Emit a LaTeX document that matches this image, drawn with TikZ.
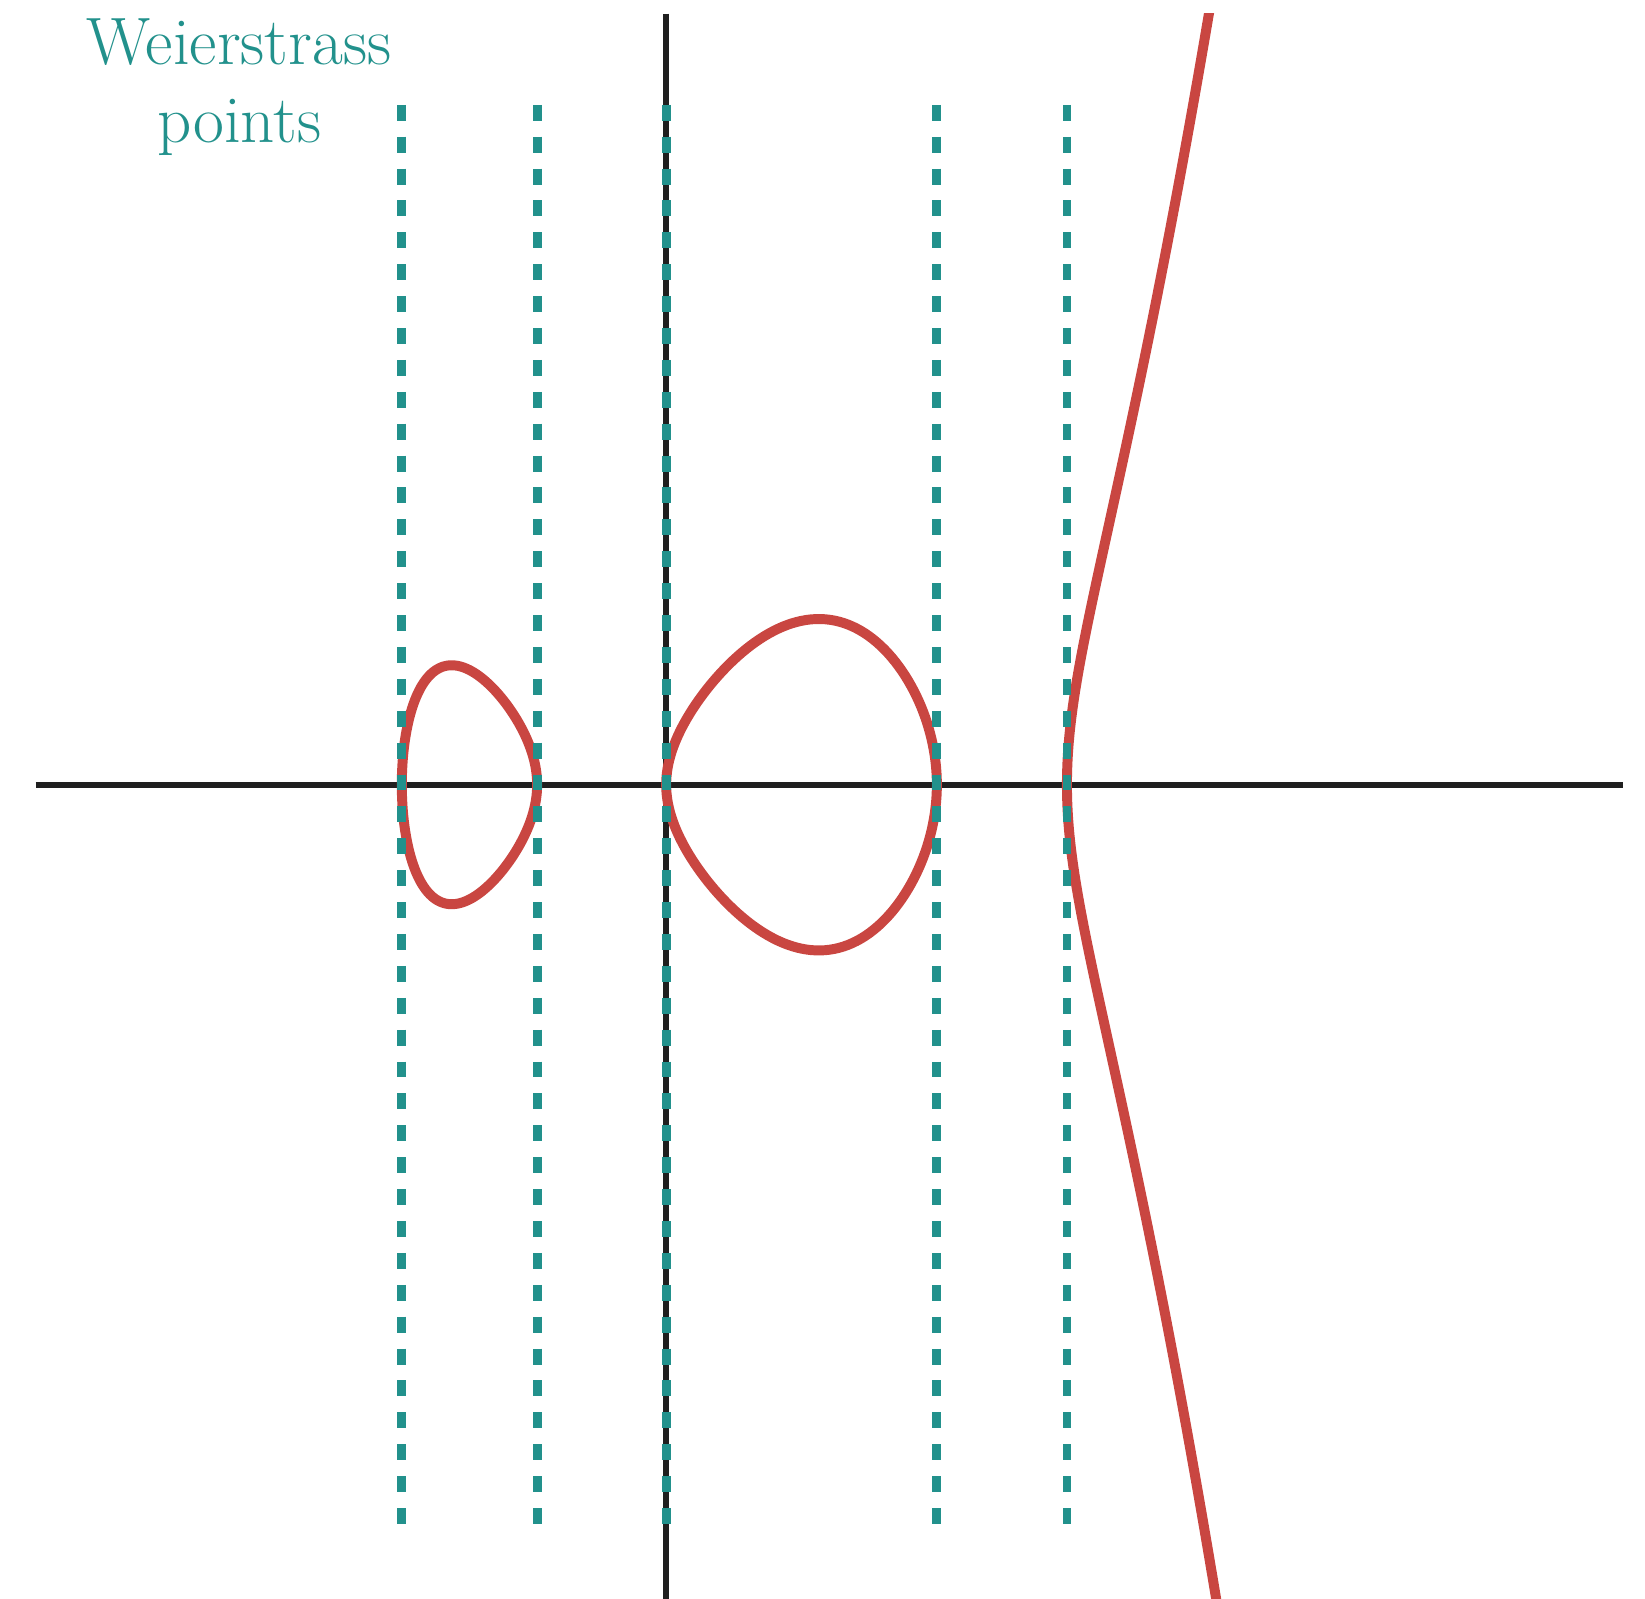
\documentclass[tikz,border=0pt]{standalone}
\usetikzlibrary{positioning}
\usepackage{xcolor}
\definecolor{wcolor}{RGB}{34,145,140}
\definecolor{curvecolor}{RGB}{201,70,65}
\tikzset{
  axis/.style    = {line width=1.7pt, black!88},
  wline/.style   = {line width=2.4pt, wcolor, dash pattern=on 0.152cm off 0.152cm},
  curve/.style   = {line width=2.7pt, curvecolor, line join=round},
  wlabel/.style  = {text=wcolor, align=center, inner sep=0pt,
                    font=\fontsize{18.2}{21.2}\selectfont},
  declare function = {
    gone(\x)   = -0.0604*\x*(\x-2.58)*(\x-3.82);
    gtwo(\x)   = -0.0604*(\x+2.52)*(\x+1.23)*(\x-3.82);
    gthree(\x) = 0.0604*(\x+2.52)*(\x+1.23)*\x*(\x-2.58);
  }
}

\begin{document}
\begin{tikzpicture}
\useasboundingbox (-6.35,-7.76) rectangle (9.33,7.48);

% ---------------- roots ----------------
\coordinate (e1) at (-2.52,0);
\coordinate (e2) at (-1.23,0);
\coordinate (e3) at (0,0);
\coordinate (e4) at (2.58,0);
\coordinate (e5) at (3.82,0);

% ---------------- axes ----------------
\coordinate (xl) at (-6.01,0);
\coordinate (xr) at (9.12,0);
\coordinate (yt) at (0,7.35);
\coordinate (yb) at (0,-7.76);
\draw[axis] (xl) -- (xr);
\draw[axis] (yt) -- (yb);

% ---------------- curve ----------------
\begin{scope}
\clip (-6.35,-7.76) rectangle (9.33,7.35);
% small oval
\draw[curve] plot[domain=0:360, samples=181, variable=\t]
  ({-1.875-0.645*cos(\t)}, {0.645*sin(\t)*sqrt(gone(-1.875-0.645*cos(\t)))}) -- cycle;
% large oval
\draw[curve] plot[domain=0:360, samples=181, variable=\t]
  ({1.29-1.29*cos(\t)}, {1.29*sin(\t)*sqrt(gtwo(1.29-1.29*cos(\t)))}) -- cycle;
% unbounded branch
\draw[curve] plot[domain=-1.24:1.24, samples=161, variable=\s]
  ({3.82+\s*\s}, {\s*sqrt(gthree(3.82+\s*\s))});
\end{scope}

% ---------------- Weierstrass lines ----------------
\draw[wline] (-2.52,6.481) -- (-2.52,-7.08);
\draw[wline] (-1.23,6.481) -- (-1.23,-7.08);
\draw[wline] (0,6.481) -- (0,-7.08);
\draw[wline] (2.58,6.481) -- (2.58,-7.08);
\draw[wline] (3.82,6.481) -- (3.82,-7.08);

% ---------------- label ----------------
\node[wlabel] (wtext) at (-4.07,6.65) {Weierstrass\\points};

\end{tikzpicture}
\end{document}
